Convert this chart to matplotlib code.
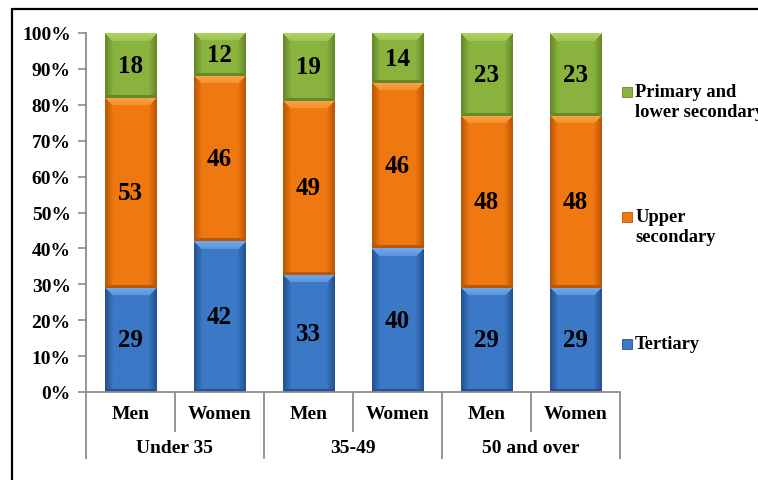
import numpy as np
import matplotlib
matplotlib.use("Agg")
import matplotlib.pyplot as plt
import matplotlib.transforms as mtransforms
from matplotlib.patches import Rectangle

# shares by education level (%), one value per bar
groups = ["Under 35", "35-49", "50 and over"]
sexes = ["Men", "Women"]
tertiary = [29, 42, 33, 40, 29, 29]
upper_secondary = [53, 46, 49, 46, 48, 48]
primary_lower = [18, 12, 19, 14, 23, 23]

series = [
    ("Tertiary", tertiary, "#3b78c6", "#6fa9ec", "#24528f"),
    ("Upper\nsecondary", upper_secondary, "#f07810", "#f9a443", "#b95806"),
    ("Primary and\nlower secondary", primary_lower, "#8bb33e", "#add25f", "#65882a"),
]

plt.rcParams["font.family"] = ["Liberation Serif", "DejaVu Serif"]
plt.rcParams["font.weight"] = "bold"

W, H = 758, 481
fig = plt.figure(figsize=(W / 100, H / 100), dpi=100)
ax_l, ax_r, ax_t, ax_b = 86, 620, 34, 393
ax = fig.add_axes([ax_l / W, 1 - ax_b / H, (ax_r - ax_l) / W, (ax_b - ax_t) / H])

n = len(tertiary)
x = np.arange(n)
bar_w = 0.58
totals = np.array(tertiary) + np.array(upper_secondary) + np.array(primary_lower)
px_per_pct = (ax_b - ax_t) / 100
px_per_slot = (ax_r - ax_l) / n


def to_rgb(c):
    return np.array(matplotlib.colors.to_rgb(c))


def bevel(base, light, dark, w_px, h_px, bev=8):
    # soft bevel: light top edge, darker sides and bottom
    base, light, dark = to_rgb(base), to_rgb(light), to_rgb(dark)
    r = np.arange(h_px)[:, None] * np.ones((1, w_px))
    c = np.ones((h_px, 1)) * np.arange(w_px)[None, :]
    d_top, d_bot = r, h_px - 1 - r
    d_side = np.minimum(c, w_px - 1 - c)
    img = np.ones((h_px, w_px, 3)) * base
    t_side = np.clip(1 - d_side / bev, 0, 1)[..., None]
    img = img * (1 - t_side) + dark * t_side
    top = (d_top < bev) & (d_top <= d_side)
    t_top = (1 - d_top / bev)[top][:, None]
    img[top] = light * (0.55 + 0.45 * t_top) + base * (0.45 - 0.45 * t_top)
    bot = (d_bot < 3) & (d_bot <= d_side)
    img[bot] = dark
    return img


bottom = np.zeros(n)
for label, vals, base, light, dark in series:
    share = np.array(vals) / totals * 100
    ax.bar(x, share, bar_w, bottom=bottom, color=base, zorder=1)
    for i in range(n):
        h_px = max(int(round(share[i] * px_per_pct)), 2)
        w_px = int(round(bar_w * px_per_slot))
        img = bevel(base, light, dark, w_px, h_px)
        ax.imshow(img, extent=(x[i] - bar_w / 2, x[i] + bar_w / 2, bottom[i], bottom[i] + share[i]),
                  aspect="auto", interpolation="bilinear", zorder=2)
        ax.text(x[i], bottom[i] + share[i] / 2, f"{vals[i]}", ha="center", va="center",
                fontsize=18, fontweight="bold", color="black", zorder=3)
    bottom += share

ax.set_xlim(-0.5, n - 0.5)
ax.set_ylim(0, 100)
ax.set_yticks(range(0, 101, 10))
ax.set_yticklabels([f"{v}%" for v in range(0, 101, 10)], fontsize=14, fontweight="bold")
ax.set_xticks([])
ax.tick_params(axis="y", length=6, width=1.2, color="#8c8c8c", pad=5)
for side in ["top", "right"]:
    ax.spines[side].set_visible(False)
for side in ["left", "bottom"]:
    ax.spines[side].set_color("#8c8c8c")
    ax.spines[side].set_linewidth(1.3)

# two-level category axis
ah = ax_b - ax_t
trans = mtransforms.blended_transform_factory(ax.transData, ax.transAxes)
for i in range(n):
    ax.text(x[i], -22 / ah, sexes[i % 2], transform=trans, ha="center", va="center",
            fontsize=14, fontweight="bold")
for g, name in enumerate(groups):
    ax.text(2 * g + 0.5, -56 / ah, name, transform=trans, ha="center", va="center",
            fontsize=14, fontweight="bold")
for b in np.arange(-0.5, n, 1.0):
    depth = 67 if (b + 0.5) % 2 == 0 else 40
    ax.plot([b, b], [0, -depth / ah], transform=trans, color="#8c8c8c", lw=1.3,
            clip_on=False, solid_capstyle="butt")

# legend, top entry first
legend_y = {"Primary and\nlower secondary": 94, "Upper\nsecondary": 219, "Tertiary": 346}
for label, vals, base, light, dark in series:
    yc = legend_y[label]
    fig.add_artist(Rectangle((622 / W, 1 - (yc + 4) / H), 10 / W, 10 / H,
                             transform=fig.transFigure, facecolor=base, edgecolor=dark, lw=0.6))
    fig.text(635 / W, 1 - (yc - 10) / H, label, ha="left", va="top", fontsize=13.3,
             fontweight="bold", linespacing=1.25)

# chart frame
fig.add_artist(Rectangle((12 / W, -0.1), 1.2, 1 - 10 / H + 0.1, transform=fig.transFigure,
                         fill=False, edgecolor="black", lw=1.6))

fig.savefig("out.png", dpi=100)
